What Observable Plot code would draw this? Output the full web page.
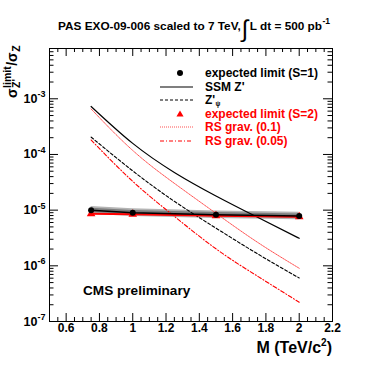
<!DOCTYPE html>
<html><head><meta charset="utf-8">
<script src="https://cdn.jsdelivr.net/npm/d3@7"></script>
<script src="https://cdn.jsdelivr.net/npm/@observablehq/plot@0.6"></script>
<style>body{margin:0;background:#fff;} svg{display:block}</style>
</head><body><div id="chart"></div>
<script>
// ---- data ----
const masses = [0.75, 1.0, 1.25, 1.5, 1.75, 2.0];            // TeV/c^2
const ssmZp   = [7.28e-4, 1.58e-4, 4.76e-5, 1.80e-5, 7.43e-6, 3.12e-6];
const psiZp   = [2.05e-4, 5.07e-5, 1.44e-5, 4.75e-6, 1.64e-6, 6.05e-7];
const rsG01   = [6.56e-4, 1.18e-4, 3.03e-5, 8.77e-6, 2.64e-6, 9.04e-7];
const rsG005  = [1.82e-4, 3.29e-5, 7.74e-6, 2.02e-6, 6.50e-7, 2.22e-7];

const limitMasses = [0.75, 1.0, 1.5, 2.0];
const limitS1   = [9.91e-6, 9.02e-6, 8.30e-6, 7.83e-6];
const limitS1Lo = [8.47e-6, 7.71e-6, 7.09e-6, 6.69e-6];
const limitS1Hi = [1.16e-5, 1.055e-5, 9.70e-6, 9.15e-6];
const limitS2   = [8.65e-6, 8.41e-6, 7.90e-6, 7.60e-6];

const xTicks = [0.6, 0.8, 1, 1.2, 1.4, 1.6, 1.8, 2, 2.2];
const xTickLabels = ["0.6", "0.8", "1", "1.2", "1.4", "1.6", "1.8", "2", "2.2"];
const yTicks = [1e-7, 1e-6, 1e-5, 1e-4, 1e-3];
const yTickExp = ["-7", "-6", "-5", "-4", "-3"];

const legendLabels = ["expected limit (S=1)", "SSM Z'", "Z'", "expected limit (S=2)", "RS grav. (0.1)", "RS grav. (0.05)"];

// ---- layout ----
const W = 382, H = 370, mL = 49, mR = 50, mT = 48, mB = 49;
const fw = W - mL - mR, fh = H - mT - mB;
const FONT = "'Liberation Sans', Arial, Helvetica, sans-serif";

const theory = masses.map((m, i) => ({m, ssm: ssmZp[i], psi: psiZp[i], rs1: rsG01[i], rs05: rsG005[i]}));
const limits = limitMasses.map((m, i) => ({m, s1: limitS1[i], lo: limitS1Lo[i], hi: limitS1Hi[i], s2: limitS2[i]}));

// minor ticks
const xMinor = [];
for (let k = 11; k <= 43; k++) { const v = k * 0.05; if (k % 4 !== 0) xMinor.push(+v.toFixed(2)); }
const yMinor = [];
for (let e = -7; e <= -3; e++) for (let mlt = 2; mlt <= 9; mlt++) { const v = mlt * Math.pow(10, e); if (v < 7.9e-3) yMinor.push(v); }

const RS1 = "#ff5050";

const plot = Plot.plot({
  width: W, height: H,
  marginLeft: mL, marginRight: mR, marginTop: mT, marginBottom: mB,
  style: {fontFamily: FONT, background: "white", overflow: "visible"},
  x: {domain: [0.5, 2.2], axis: null},
  y: {type: "log", domain: [1e-7, 8e-3], axis: null},
  marks: [
    // error band
    Plot.areaY(limits, {x: "m", y1: "lo", y2: "hi", fill: "#b4b4b4"}),
    Plot.areaY(limits, {x: "m", y1: d => d.lo * 1.07, y2: d => d.hi / 1.07, fill: "#7c7c7c"}),
    // theory curves
    Plot.line(theory, {x: "m", y: "ssm", stroke: "black", strokeWidth: 1.2, curve: "natural"}),
    Plot.line(theory, {x: "m", y: "psi", stroke: "black", strokeWidth: 1.1, strokeDasharray: "3,2", curve: "natural"}),
    Plot.line(theory, {x: "m", y: "rs1", stroke: RS1, strokeWidth: 1, strokeDasharray: "1,1", curve: "natural"}),
    Plot.line(theory, {x: "m", y: "rs05", stroke: "#ff0000", strokeWidth: 1.1, strokeDasharray: "4,2,1,2", curve: "natural"}),
    // expected limits
    Plot.line(limits, {x: "m", y: "s2", stroke: "#ff0000", strokeWidth: 2}),
    Plot.dot(limits, {x: "m", y: "s2", symbol: "triangle", r: 3.2, fill: "#ff0000"}),
    Plot.line(limits, {x: "m", y: "s1", stroke: "black", strokeWidth: 1.5}),
    Plot.dot(limits, {x: "m", y: "s1", r: 3, fill: "black"}),
    // ticks (inward, mirrored)
    Plot.ruleX(xTicks, {x: d => d, insetTop: fh - 8, stroke: "black"}),
    Plot.ruleX(xTicks, {x: d => d, insetBottom: fh - 8, stroke: "black"}),
    Plot.ruleX(xMinor, {x: d => d, insetTop: fh - 4, stroke: "black"}),
    Plot.ruleX(xMinor, {x: d => d, insetBottom: fh - 4, stroke: "black"}),
    Plot.ruleY(yTicks, {y: d => d, insetRight: fw - 9, stroke: "black"}),
    Plot.ruleY(yTicks, {y: d => d, insetLeft: fw - 9, stroke: "black"}),
    Plot.ruleY(yMinor, {y: d => d, insetRight: fw - 4.5, stroke: "black"}),
    Plot.ruleY(yMinor, {y: d => d, insetLeft: fw - 4.5, stroke: "black"}),
    Plot.frame({stroke: "black", strokeWidth: 1}),
    // x tick labels
    Plot.text(xTicks, {x: d => d, text: (d, i) => xTickLabels[i], frameAnchor: "bottom", dy: 10.5,
      fontSize: 12, fontWeight: "bold", fill: "black"})
  ]
});
document.getElementById("chart").appendChild(plot);

const svg = d3.select(plot);
const ys = plot.scale("y");

function txt(parent, x, y, s, size, opts = {}) {
  return parent.append("text").attr("x", x).attr("y", y)
    .attr("text-anchor", opts.anchor || "start")
    .style("font-family", FONT).style("font-weight", opts.weight || "bold")
    .style("font-size", size + "px").attr("fill", opts.fill || "black").text(s);
}
const len = t => t.node().getComputedTextLength();

// y tick labels
yTicks.forEach((v, i) => {
  const t = svg.append("text").attr("x", 45.5).attr("y", ys.apply(v) + 4.5).attr("text-anchor", "end")
    .style("font-family", FONT).style("font-weight", "bold").attr("fill", "black");
  t.append("tspan").style("font-size", "12.5px").text("10");
  t.append("tspan").style("font-size", "9px").attr("dy", -5.5).text(yTickExp[i]);
});

// title
{
  let x = 58;
  const a = txt(svg, x, 30, "PAS EXO-09-006 scaled to 7 TeV,", 11.8); x += len(a) + 1;
  const b = txt(svg, x, 37, "\u222B", 24, {weight: "normal"}); x += len(b) + 1.5;
  const c = txt(svg, x, 30, "L dt = 500 pb", 11.8); x += len(c) + 0.5;
  txt(svg, x, 24, "-1", 8.5);
}

// y-axis title  sigma^{limit}_{Z'} / sigma_Z  (rotated)
{
  const g = svg.append("g").attr("transform", "translate(16.5,98) rotate(-90)");
  let x = 0;
  const s1 = txt(g, x, 0, "\u03C3", 14); x += len(s1) + 0.5;
  const sup = txt(g, x, -6, "limit", 10.5);
  const sub = txt(g, x, 3.5, "Z'", 10.5);
  x += Math.max(len(sup), len(sub)) + 0.5;
  const s2 = txt(g, x, 0, "/\u03C3", 14); x += len(s2) + 0.5;
  txt(g, x, 3.5, "Z", 10.5);
}

// x-axis title
{
  const t = svg.append("text").attr("x", 332).attr("y", 352.5).attr("text-anchor", "end")
    .style("font-family", FONT).style("font-weight", "bold").style("font-size", "16px").attr("fill", "black");
  t.append("tspan").text("M (TeV/c");
  t.append("tspan").style("font-size", "10px").attr("dy", -7).text("2");
  t.append("tspan").attr("dy", 7).text(")");
}

// CMS preliminary
txt(svg, 83, 295, "CMS preliminary", 13.6);

// legend
{
  const L = svg.append("g");
  const lx1 = 160, lx2 = 193, mx = 180, tx = 205;
  const rows = [73, 87, 100, 114.5, 127, 141];
  const red = "#ff0000";
  L.append("circle").attr("cx", mx).attr("cy", rows[0]).attr("r", 3).attr("fill", "black");
  L.append("line").attr("x1", lx1).attr("x2", lx2).attr("y1", rows[1]).attr("y2", rows[1]).attr("stroke", "black").attr("stroke-width", 1.2);
  L.append("line").attr("x1", lx1).attr("x2", lx2).attr("y1", rows[2]).attr("y2", rows[2]).attr("stroke", "black").attr("stroke-dasharray", "3,2");
  L.append("path").attr("d", d3.symbol(d3.symbolTriangle, 22)()).attr("transform", `translate(${mx},${rows[3]})`).attr("fill", red);
  L.append("line").attr("x1", lx1).attr("x2", lx2).attr("y1", rows[4]).attr("y2", rows[4]).attr("stroke", RS1).attr("stroke-dasharray", "1,1");
  L.append("line").attr("x1", lx1).attr("x2", lx2).attr("y1", rows[5]).attr("y2", rows[5]).attr("stroke", red).attr("stroke-dasharray", "4,2,1,2");
  const cols = ["black", "black", "black", red, red, red];
  legendLabels.forEach((s, i) => {
    const t = txt(L, tx, rows[i] + 3.7, s, 12, {fill: cols[i]});
    if (i === 2) {
      txt(L, tx + len(t) + 0.3, rows[i] + 5.8, "\u03C8", 6.5);
    }
  });
}
</script>
</body></html>
